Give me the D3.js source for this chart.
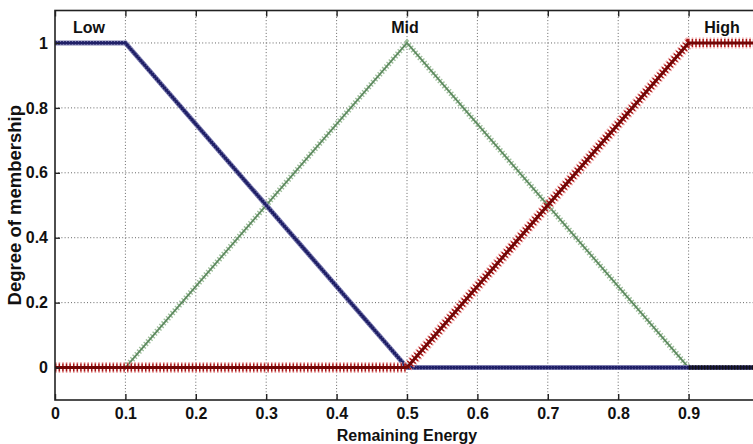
<!DOCTYPE html>
<html>
<head>
<meta charset="utf-8">
<script src="https://cdn.jsdelivr.net/npm/d3@7"></script>
<style>
  html, body { margin: 0; padding: 0; background: #fff; }
  svg text { font-family: "Liberation Sans", Arial, sans-serif; font-weight: bold; fill: #111; }
</style>
</head>
<body>
<svg id="chart" width="753" height="444"></svg>
<script>
// Membership function breakpoints for remaining energy (x, degree)
const lowPoints  = [[0, 1], [0.1, 1], [0.5, 0], [1, 0]];
const midPoints  = [[0.1, 0], [0.5, 1], [0.9, 0]];
const midTail    = [[0.9, 0], [1, 0]];
const highPoints = [[0, 0], [0.5, 0], [0.9, 1], [1, 1]];

const setNames  = ["Low", "Mid", "High"];
const xTicks = [0, 0.1, 0.2, 0.3, 0.4, 0.5, 0.6, 0.7, 0.8, 0.9, 1];
const yTicks = [0, 0.2, 0.4, 0.6, 0.8, 1];
const yTickLabels = ["0", "0.2", "0.4", "0.6", "0.8", "1"];

const svg = d3.select("#chart");
const plot = { left: 55, top: 10.5, right: 759, bottom: 400 };

const x = d3.scaleLinear().domain([0, 1]).range([plot.left, plot.right]);
const y = d3.scaleLinear().domain([-0.1, 1.1]).range([plot.bottom, plot.top]);

// dotted grid
const grid = svg.append("g");
grid.selectAll("line.vx").data(xTicks.slice(1, -1)).join("line")
  .attr("class", "vx")
  .attr("x1", d => x(d)).attr("x2", d => x(d))
  .attr("y1", plot.top).attr("y2", plot.bottom)
  .attr("stroke", "#666").attr("stroke-width", 1).attr("stroke-dasharray", "1,2.2");
grid.selectAll("line.hy").data(yTicks).join("line")
  .attr("class", "hy")
  .attr("x1", plot.left).attr("x2", plot.right)
  .attr("y1", d => y(d)).attr("y2", d => y(d))
  .attr("stroke", "#666").attr("stroke-width", 1).attr("stroke-dasharray", "1,2.2");

const line = d3.line().x(d => x(d[0])).y(d => y(d[1]));

// Mid: green line with x-style markers
svg.append("path").datum(midPoints).attr("d", line)
  .attr("fill", "none").attr("stroke", "#9fbf9c").attr("stroke-width", 6)
  .attr("stroke-dasharray", "1.4,2");
svg.append("path").datum(midPoints).attr("d", line)
  .attr("fill", "none").attr("stroke", "#5e8a60").attr("stroke-width", 1.8);

// Low: navy line
svg.append("path").datum(lowPoints).attr("d", line)
  .attr("fill", "none").attr("stroke", "#7c7cb0").attr("stroke-width", 5);
svg.append("path").datum(lowPoints).attr("d", line)
  .attr("fill", "none").attr("stroke", "#18185e").attr("stroke-width", 3.2)
  .attr("stroke-dasharray", "2,1");
svg.append("path").datum(lowPoints).attr("d", line)
  .attr("fill", "none").attr("stroke", "#202068").attr("stroke-width", 2);

// Mid tail overlapping Low at zero
svg.append("path").datum(midTail).attr("d", line)
  .attr("fill", "none").attr("stroke", "#111").attr("stroke-width", 4.5)
  .attr("stroke-dasharray", "2,1");

// High: red line with + markers
svg.append("path").datum(highPoints).attr("d", line)
  .attr("fill", "none").attr("stroke", "#ec9e9e").attr("stroke-width", 11)
  .attr("stroke-dasharray", "1.6,2").attr("opacity", 0.85);
svg.append("path").datum(highPoints).attr("d", line)
  .attr("fill", "none").attr("stroke", "#a51414").attr("stroke-width", 8)
  .attr("stroke-dasharray", "1.4,2.2");
svg.append("path").datum(highPoints).attr("d", line)
  .attr("fill", "none").attr("stroke", "#720606").attr("stroke-width", 3);

// frame
svg.append("rect").attr("x", plot.left).attr("y", plot.top)
  .attr("width", plot.right - plot.left).attr("height", plot.bottom - plot.top)
  .attr("fill", "none").attr("stroke", "#222").attr("stroke-width", 1.6);

// inward ticks
const axB = d3.axisBottom(x).tickValues(xTicks).tickSize(-6).tickPadding(8).tickFormat(d3.format("~g"));
const gB = svg.append("g").attr("transform", `translate(0,${plot.bottom})`).call(axB);
const axT = d3.axisTop(x).tickValues(xTicks).tickSize(-6).tickFormat("");
const gT = svg.append("g").attr("transform", `translate(0,${plot.top})`).call(axT);
const axL = d3.axisLeft(y).tickValues(yTicks).tickSize(-5).tickPadding(7)
  .tickFormat((d, i) => yTickLabels[i]);
const gL = svg.append("g").attr("transform", `translate(${plot.left},0)`).call(axL);
[gB, gT, gL].forEach(g => {
  g.select(".domain").remove();
  g.selectAll(".tick line").attr("stroke", "#222").attr("stroke-width", 1.4);
  g.selectAll("text").attr("font-size", 16).attr("fill", "#111")
    .style("font-family", '"Liberation Sans", Arial, sans-serif')
    .style("font-weight", "bold");
});

// set names
svg.selectAll("text.setname").data(setNames).join("text")
  .attr("class", "setname")
  .attr("x", (d, i) => [89, 405, 722][i])
  .attr("y", 33)
  .attr("text-anchor", "middle").attr("font-size", 16)
  .text(d => d);

// axis titles
svg.append("text").attr("x", (plot.left + plot.right) / 2).attr("y", 441)
  .attr("text-anchor", "middle").attr("font-size", 16)
  .text("Remaining Energy");
svg.append("text").attr("transform", `translate(21,${(plot.top + plot.bottom) / 2}) rotate(-90)`)
  .attr("text-anchor", "middle").attr("font-size", 18.5)
  .text("Degree of membership");
</script>
</body>
</html>
